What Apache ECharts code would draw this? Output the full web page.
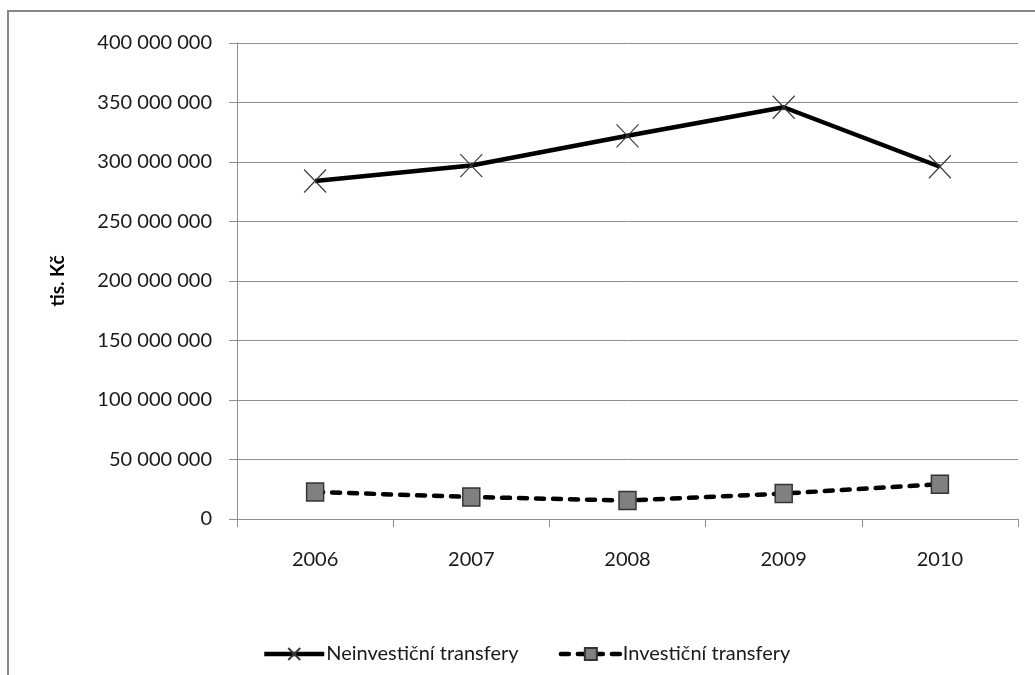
<!DOCTYPE html>
<html>
<head>
<meta charset="utf-8">
<script src="https://cdn.jsdelivr.net/npm/echarts@6/dist/echarts.min.js"></script>
<style>
  html, body { margin: 0; padding: 0; background: #fff; }
  #chart { width: 1035px; height: 675px; }
</style>
</head>
<body>
<div id="chart"></div>
<script>
// Transfery podle let (tis. Kč)
const years = ['2006', '2007', '2008', '2009', '2010'];
const neinvesticni = [284000000, 297000000, 322000000, 346000000, 296000000];
const investicni = [22700000, 18500000, 15500000, 21400000, 29200000];
const seriesNames = ['Neinvestiční transfery', 'Investiční transfery'];
const yAxisTitle = 'tis. Kč';

const FONT = 'Lato, "Liberation Sans", sans-serif';
const GRID_GRAY = '#8f8f8f';
const TEXT = '#1a1a1a';

function spaced(v) {
  return String(v).replace(/\B(?=(\d{3})+(?!\d))/g, ' ');
}

const chart = echarts.init(document.getElementById('chart'), null, { renderer: 'canvas' });

chart.setOption({
  animation: false,
  backgroundColor: '#ffffff',
  graphic: [{
    type: 'rect',
    silent: true,
    z: -10,
    shape: { x: 8, y: 11, width: 1200, height: 900 },
    style: { fill: 'none', stroke: '#888888', lineWidth: 2 }
  }],
  grid: { left: 237, right: 17, top: 43, bottom: 156, containLabel: false },
  legend: {
    left: 257,
    top: 639,
    itemWidth: 60,
    itemHeight: 15,
    itemGap: 40,
    lineStyle: { width: 4.5 },
    textStyle: { fontFamily: FONT, fontSize: 20, color: TEXT, padding: [0, 0, 0, -3] },
    data: seriesNames
  },
  xAxis: {
    type: 'category',
    data: years,
    boundaryGap: true,
    axisLine: { lineStyle: { color: GRID_GRAY, width: 1 } },
    axisTick: { show: true, length: 8, lineStyle: { color: GRID_GRAY } },
    axisLabel: { fontFamily: FONT, fontSize: 20, color: TEXT, margin: 31 },
    splitLine: { show: false }
  },
  yAxis: {
    type: 'value',
    min: 0,
    max: 400000000,
    interval: 50000000,
    name: yAxisTitle,
    nameLocation: 'middle',
    nameRotate: 90,
    nameGap: 170,
    nameTextStyle: { fontFamily: FONT, fontSize: 19, fontWeight: 'bold', color: '#000' },
    axisLine: { show: true, lineStyle: { color: GRID_GRAY, width: 1 } },
    axisTick: { show: true, length: 8, lineStyle: { color: GRID_GRAY } },
    axisLabel: { fontFamily: FONT, fontSize: 20, color: TEXT, margin: 25, formatter: spaced },
    splitLine: { show: true, lineStyle: { color: GRID_GRAY, width: 1 } }
  },
  series: [
    {
      name: seriesNames[0],
      type: 'line',
      data: neinvesticni,
      symbol: 'path://M0,0L10,10M10,0L0,10',
      symbolSize: [22, 23],
      showAllSymbol: true,
      lineStyle: { color: '#000000', width: 4.5 },
      itemStyle: { color: '#000000', borderColor: '#3a3a3a', borderWidth: 1.2 },
      z: 3
    },
    {
      name: seriesNames[1],
      type: 'line',
      data: investicni,
      symbol: 'rect',
      symbolSize: [17, 18],
      showAllSymbol: true,
      lineStyle: { color: '#000000', width: 4.5, type: [8, 9], cap: 'round' },
      itemStyle: { color: '#808080', borderColor: '#333333', borderWidth: 1.5 },
      z: 3
    }
  ]
});
</script>
</body>
</html>
